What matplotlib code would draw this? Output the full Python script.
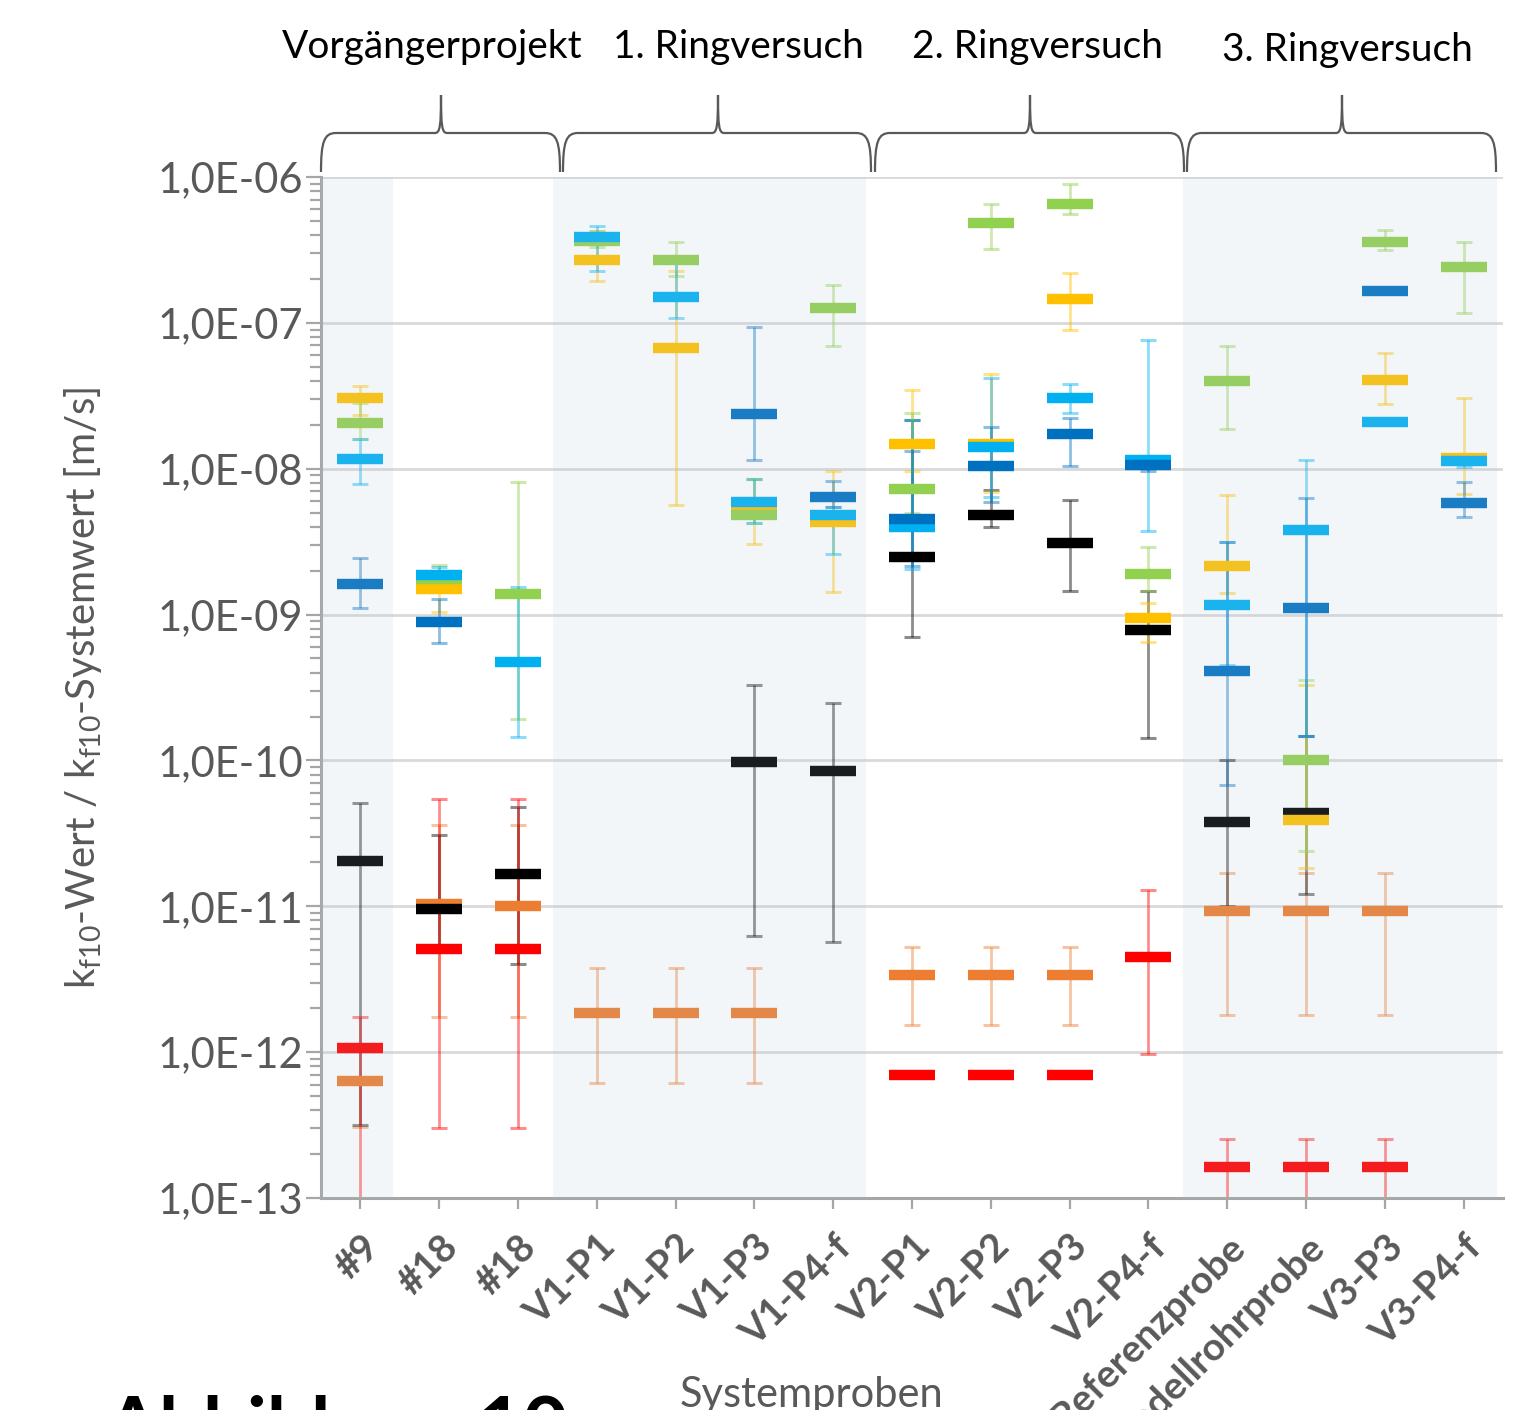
import numpy as np
import matplotlib.pyplot as plt
from matplotlib.path import Path
from matplotlib.patches import PathPatch
from matplotlib.ticker import LogLocator, FuncFormatter, NullFormatter

plt.rcParams['font.family'] = ['Lato', 'DejaVu Sans']

nan = np.nan

samples = ["#9", "#18", "#18", "V1-P1", "V1-P2", "V1-P3", "V1-P4-f",
           "V2-P1", "V2-P2", "V2-P3", "V2-P4-f",
           "Referenzprobe", "Modellrohrprobe", "V3-P3", "V3-P4-f"]
groups = ["Vorgängerprojekt", "1. Ringversuch", "2. Ringversuch", "3. Ringversuch"]
shaded = [(0, 1), (3, 7), (11, 15)]

# value / lower whisker / upper whisker per colour
orange    = [6.3e-13, 1.04e-11, 1.01e-11, 1.86e-12, 1.86e-12, 1.86e-12, nan, 3.37e-12, 3.37e-12, 3.37e-12, nan, 9.3e-12, 9.3e-12, 9.3e-12, nan]
orange_lo = [3.07e-13, 1.73e-12, 1.73e-12, 6.1e-13, 6.1e-13, 6.1e-13, nan, 1.53e-12, 1.53e-12, 1.53e-12, nan, 1.79e-12, 1.79e-12, 1.79e-12, nan]
orange_hi = [6.3e-13, 3.63e-11, 3.63e-11, 3.76e-12, 3.76e-12, 3.76e-12, nan, 5.3e-12, 5.3e-12, 5.3e-12, nan, 1.69e-11, 1.69e-11, 1.69e-11, nan]

black    = [2.03e-11, 9.55e-12, 1.66e-11, nan, nan, 9.7e-11, 8.4e-11, 2.48e-9, 4.79e-9, 3.09e-9, 7.8e-10, 3.8e-11, 4.35e-11, nan, nan]
black_lo = [3.15e-13, 5e-12, 3.99e-12, nan, nan, 6.27e-12, 5.73e-12, 6.97e-10, 4.0e-9, 1.45e-9, 1.43e-10, 1e-11, 1.22e-11, nan, nan]
black_hi = [5.09e-11, 3.08e-11, 4.79e-11, nan, nan, 3.3e-10, 2.49e-10, 2.16e-8, 7.2e-9, 6.12e-9, 1.45e-9, 1e-10, 1.47e-10, nan, nan]

gold    = [3.03e-8, 1.49e-9, nan, 2.70e-7, 6.76e-8, 5.1e-9, 4.3e-9, 1.47e-8, 1.48e-8, 1.45e-7, 9.44e-10, 2.14e-9, 3.93e-11, 4.08e-8, 1.18e-8]
gold_lo = [2.35e-8, 1.04e-9, nan, 1.94e-7, 5.6e-9, 3.06e-9, 1.42e-9, 9.6e-9, 6.9e-9, 8.97e-8, 6.5e-10, 1.41e-9, 1.83e-11, 2.79e-8, 6.76e-9]
gold_hi = [3.68e-8, 2.0e-9, nan, 4.27e-7, 2.26e-7, 8.5e-9, 9.57e-9, 3.47e-8, 4.46e-8, 2.21e-7, 1.2e-9, 6.56e-9, 3.3e-10, 6.18e-8, 3.03e-8]

green    = [2.07e-8, 1.76e-9, 1.38e-9, 3.63e-7, 2.70e-7, 4.79e-9, 1.26e-7, 7.21e-9, 4.8e-7, 6.53e-7, 1.89e-9, 4.02e-8, 1.0e-10, 3.56e-7, 2.42e-7]
green_lo = [1.6e-8, 1.5e-9, 1.93e-10, 3.32e-7, 2.1e-7, 4.26e-9, 6.9e-8, 4.96e-9, 3.23e-7, 5.55e-7, 1.45e-9, 1.88e-8, 2.4e-11, 3.18e-7, 1.17e-7]
green_hi = [2.8e-8, 2.19e-9, 8.1e-9, 4.27e-7, 3.57e-7, 8.5e-9, 1.81e-7, 2.4e-8, 6.5e-7, 8.9e-7, 2.9e-9, 6.9e-8, 3.57e-10, 4.31e-7, 3.57e-7]

lightblue    = [1.16e-8, 1.88e-9, 4.75e-10, 3.88e-7, 1.51e-7, 5.87e-9, 4.79e-9, 4.0e-9, 1.40e-8, 3.04e-8, 1.14e-8, 1.16e-9, 3.78e-9, 2.1e-8, 1.13e-8]
lightblue_lo = [7.8e-9, 1.7e-9, 1.45e-10, 2.26e-7, 1.08e-7, 4.26e-9, 2.6e-9, 2.05e-9, 6.4e-9, 2.41e-8, 3.72e-9, 4.5e-10, 1.47e-10, nan, 1.03e-8]
lightblue_hi = [1.6e-8, 2.12e-9, 1.54e-9, 4.62e-7, 2.7e-7, 8.5e-9, 5.5e-9, 2.16e-8, 4.2e-8, 3.81e-8, 7.6e-8, 3.14e-9, 1.15e-8, nan, 1.13e-8]

darkblue    = [1.61e-9, 8.85e-10, nan, nan, nan, 2.39e-8, 6.35e-9, 4.49e-9, 1.04e-8, 1.72e-8, 1.06e-8, 4.13e-10, 1.11e-9, 1.66e-7, 5.78e-9]
darkblue_lo = [1.11e-9, 6.43e-10, nan, nan, nan, 1.15e-8, 5.5e-9, 2.14e-9, 5.9e-9, 1.05e-8, 9.6e-9, 6.8e-11, 1.47e-10, nan, 4.63e-9]
darkblue_hi = [2.44e-9, 1.28e-9, nan, nan, nan, 9.4e-8, 8.3e-9, 1.33e-8, 1.92e-8, 2.24e-8, 1.14e-8, 3.14e-9, 6.3e-9, nan, 8.1e-9]

red    = [1.07e-12, 5.09e-12, 5.09e-12, nan, nan, nan, nan, 6.94e-13, 6.94e-13, 6.94e-13, 4.5e-12, 1.63e-13, 1.63e-13, 1.63e-13, nan]
red_lo = [5e-14, 3.02e-13, 3.02e-13, nan, nan, nan, nan, nan, nan, nan, 9.7e-13, 5e-14, 5e-14, 5e-14, nan]
red_hi = [1.73e-12, 5.45e-11, 5.45e-11, nan, nan, nan, nan, nan, nan, nan, 1.3e-11, 2.53e-13, 2.53e-13, 2.53e-13, nan]

# drawing order = stacking order in the original
series = [
    (orange, orange_lo, orange_hi, "#ED7D31"),
    (black, black_lo, black_hi, "#000000"),
    (gold, gold_lo, gold_hi, "#FFC000"),
    (green, green_lo, green_hi, "#92D050"),
    (lightblue, lightblue_lo, lightblue_hi, "#00B0F0"),
    (darkblue, darkblue_lo, darkblue_hi, "#0070C0"),
    (red, red_lo, red_hi, "#FF0000"),
]

W, H = 1524, 1410
fig = plt.figure(figsize=(W / 100, H / 100), dpi=100)

def fx(px):
    return px / W

def fy(py):
    return 1 - py / H

ax = fig.add_axes([fx(321), fy(1198), fx(1503) - fx(321), fy(177) - fy(1198)])
x = np.arange(len(samples))

for v, lo, hi, col in series:
    v = np.array(v); lo = np.array(lo); hi = np.array(hi)
    m = ~np.isnan(lo)
    if m.any():
        ax.errorbar(x[m], v[m], yerr=[v[m] - lo[m], hi[m] - v[m]], fmt='none',
                    ecolor=col, alpha=0.45, elinewidth=2, capsize=6, capthick=2.2, zorder=2)
for k, (v, lo, hi, col) in enumerate(series):
    ax.plot(x, v, ls='none', marker='_', ms=33, mew=7.5, color=col, zorder=3 + k)

for a, b in shaded:
    ax.axvspan(a - 0.56, b - 0.58, color='#B5C9DD', alpha=0.15, lw=0, zorder=20)

ax.set_yscale('log')
ax.set_ylim(1e-13, 1e-6)
ax.set_xlim(-0.5, len(samples) - 0.5)
ax.yaxis.set_major_locator(LogLocator(base=10, numticks=20))
ax.yaxis.set_minor_locator(LogLocator(base=10, subs=np.arange(2, 10), numticks=20))
ax.yaxis.set_minor_formatter(NullFormatter())
ax.yaxis.set_major_formatter(FuncFormatter(lambda v, p: "1,0E-%02d" % round(-np.log10(v))))
ax.grid(axis='y', which='major', color='#D9D9D9', lw=2, zorder=0)
ax.set_axisbelow(True)

for s in ['top', 'right']:
    ax.spines[s].set_visible(False)
for s in ['left', 'bottom']:
    ax.spines[s].set_color('#A6A6A6')
    ax.spines[s].set_linewidth(2.2)

ax.tick_params(axis='y', which='major', length=11, width=1.6, color='#A6A6A6',
               labelsize=30, labelcolor='#595959', pad=2)
ax.tick_params(axis='y', which='minor', length=8, width=1.6, color='#A6A6A6')
ax.set_xticks(x)
ax.set_xticklabels(samples, rotation=45, ha='right', rotation_mode='anchor',
                   fontweight='bold', fontsize=28, color='#595959')
ax.tick_params(axis='x', length=8, width=1.6, color='#A6A6A6', pad=14)

ax.set_ylabel("k$_\\mathregular{f10}$-Wert / k$_\\mathregular{f10}$-Systemwert [m/s]",
              fontsize=29, color='#595959')
ax.yaxis.set_label_coords((104 - 321) / 1182, 0.5)

fig.text(fx(812), fy(1376), "Systemproben", fontsize=30, color='#595959',
         ha='center', va='top')
fig.text(fx(105), -0.03, "Abbildung 10", fontsize=56, fontweight='bold',
         color='black', ha='left', va='baseline')

# braces above the groups
brace_px = [(321, 560, 441), (563, 871, 718), (875, 1184, 1030), (1187, 1496, 1342)]
label_px = [(432, 47), (738, 47), (1037, 47), (1347, 50)]
yb, yl, yt = 172, 133, 95
for (x0, x1, xm), name, (lx, ly) in zip(brace_px, groups, label_px):
    verts = [(x0, yb), (x0, 142), (x0 + 3, yl), (x0 + 15, yl),
             (xm - 6, yl),
             (xm - 1, yl), (xm, 126), (xm, yt),
             (xm, 126), (xm + 1, yl), (xm + 6, yl),
             (x1 - 15, yl),
             (x1 - 3, yl), (x1, 142), (x1, yb)]
    codes = [Path.MOVETO, Path.CURVE4, Path.CURVE4, Path.CURVE4,
             Path.LINETO,
             Path.CURVE4, Path.CURVE4, Path.CURVE4,
             Path.CURVE4, Path.CURVE4, Path.CURVE4,
             Path.LINETO,
             Path.CURVE4, Path.CURVE4, Path.CURVE4]
    verts = [(fx(a), fy(b)) for a, b in verts]
    fig.patches.append(PathPatch(Path(verts, codes), transform=fig.transFigure,
                                 fill=False, edgecolor='#595959', lw=1.6))
    fig.text(fx(lx), fy(ly), name, fontsize=28, color='black', ha='center', va='center')

fig.savefig("out.png", dpi=100)
